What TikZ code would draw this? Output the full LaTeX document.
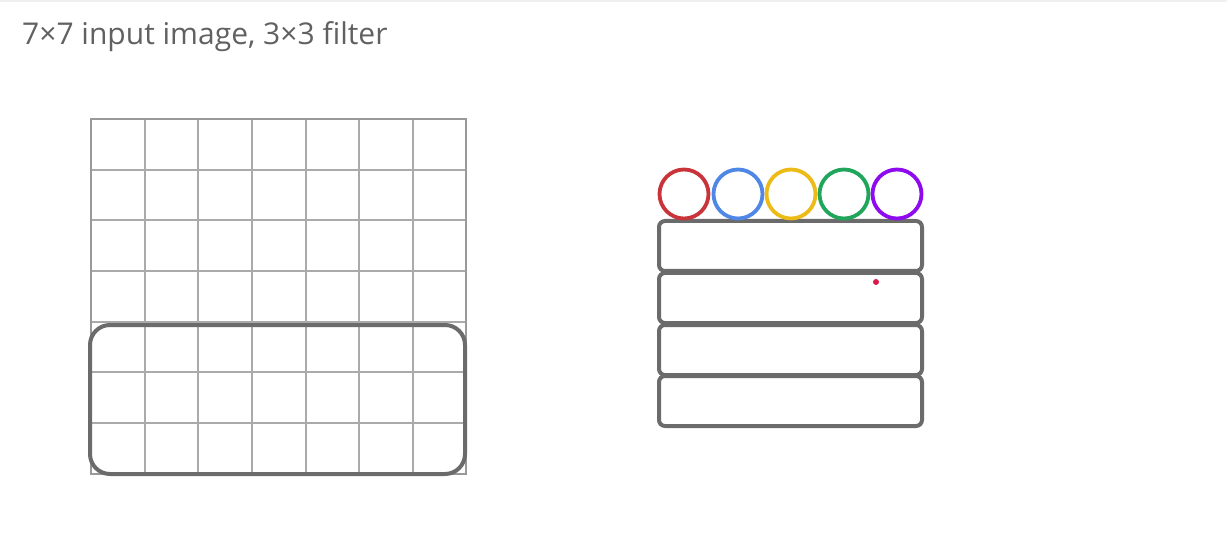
\documentclass[tikz,border=0pt]{standalone}
\usepackage{fontspec}
\setmainfont{Open Sans}
\definecolor{boxgray}{HTML}{6B6B6B}
\definecolor{gridgray}{HTML}{AAAAAA}
\definecolor{ringred}{HTML}{C9343A}
\definecolor{ringblue}{HTML}{4F87E6}
\definecolor{ringyellow}{HTML}{EDBB17}
\definecolor{ringgreen}{HTML}{1FA65A}
\definecolor{ringpurple}{HTML}{8E0BF0}
\definecolor{dotred}{HTML}{DC1A4A}
\tikzset{
	rowbox/.style={line width=4pt, color=boxgray, rounded corners=6pt},
	ring/.style={line width=3.8pt}
}

\begin{document}
\begin{tikzpicture}[x=1pt, y=-1pt]
			%%%%% START %%%%%
			\useasboundingbox (0, 0) rectangle (1227, 548);
			\draw[line width=1.5pt, color=gray!12] (0, 1) -- (1227, 1);
			
			\node[anchor=base west, inner sep=0pt, color=black!62, font=\fontsize{30}{33}\selectfont] (title) at (22, 45) {7×7 input image, 3×3 filter};
			
			% input grid
			\foreach \gx in {145, 198, 252, 306, 359, 413}
				\draw[line width=1.3pt, color=gridgray] (\gx, 119) -- (\gx, 474);
			\foreach \gy in {170, 220, 271, 322, 372, 423}
				\draw[line width=1.3pt, color=gridgray] (91, \gy) -- (466, \gy);
			\draw[line width=1.6pt, color=black!40] (91, 119) rectangle (466, 474);
			
			% filter window
			\draw[line width=4pt, color=boxgray, rounded corners=20pt] (90, 325) rectangle (465, 474);
			
			% output rows
			\draw[rowbox] (659, 221) rectangle (922, 271);
			\draw[rowbox] (659, 273) rectangle (922, 323);
			\draw[rowbox] (659, 325) rectangle (922, 375);
			\draw[rowbox] (659, 376) rectangle (922, 426);
			
			\draw[ring, color=ringred] (684, 194) circle (24.5);
			\draw[ring, color=ringblue] (738, 194) circle (24.5);
			\draw[ring, color=ringyellow] (791, 194) circle (24.5);
			\draw[ring, color=ringgreen] (844, 194) circle (24.5);
			\draw[ring, color=ringpurple] (897, 194) circle (24.5);
			
			\fill[dotred] (876, 282) circle (3);
			%%%%% END %%%%%
\end{tikzpicture}
\end{document}
